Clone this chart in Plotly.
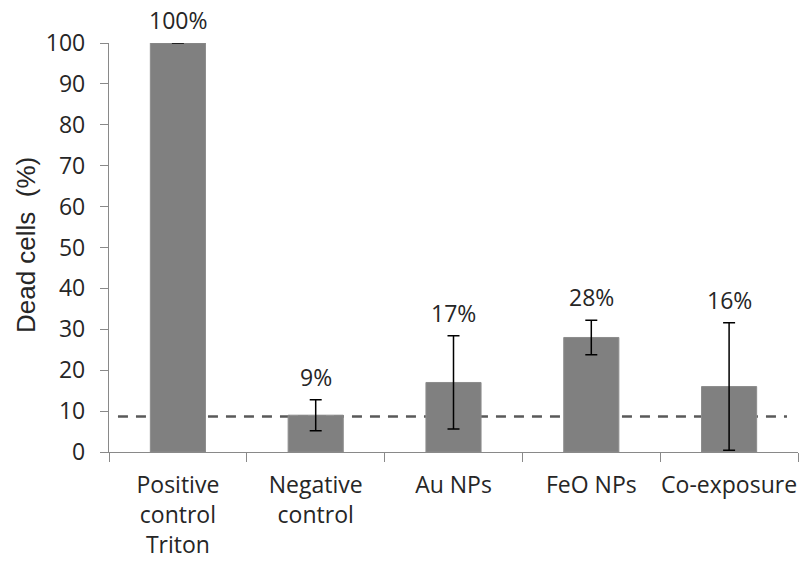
import plotly.graph_objects as go

# Cell viability after nanoparticle exposure
categories = ["Positive<br>control<br>Triton", "Negative<br>control", "Au NPs", "FeO NPs", "Co-exposure"]
dead_pct = [100, 9, 17, 28, 16]
err_pct = [0, 3.8, 11.4, 4.2, 15.6]
baseline_pct = 8.7          # negative-control reference level
y_ticks = list(range(0, 101, 10))

AXIS_GRAY = "#898989"
BAR_GRAY = "#808080"
TEXT = "#262626"
FONT = "Open Sans"

fig = go.Figure()
fig.add_trace(go.Bar(
    x=categories, y=dead_pct,
    marker=dict(color=BAR_GRAY, line=dict(color="#8c8c8c", width=1)),
    width=0.4,
    error_y=dict(type="data", array=err_pct, color="#000000", thickness=1.5, width=6),
    showlegend=False,
))

# Reference level as a dashed line behind the bars
fig.add_shape(type="line", xref="x", yref="y",
              x0=-0.435, x1=4.42, y0=baseline_pct, y1=baseline_pct,
              line=dict(color="#595959", width=2.5, dash="10px,8px"),
              layer="below")

# Percentage labels above each bar / error bar
for c, v, e in zip(categories, dead_pct, err_pct):
    fig.add_annotation(x=c, y=v + e, text=f"{v}%", showarrow=False,
                       yanchor="middle", yshift=23,
                       font=dict(family=FONT, size=23, color=TEXT))

# Rotated y-axis title
fig.add_annotation(xref="paper", yref="paper", x=0, y=0.506,
                   xshift=-83, text="Dead cells\u00a0\u00a0(%)", textangle=-90,
                   showarrow=False, xanchor="center", yanchor="middle",
                   font=dict(family="Liberation Sans", size=26, color=TEXT))

fig.update_layout(
    width=799, height=563,
    margin=dict(l=109, r=1, t=43, b=111, autoexpand=False),
    plot_bgcolor="white", paper_bgcolor="white",
    font=dict(family=FONT, color=TEXT),
)
fig.update_xaxes(
    type="category", range=[-0.5, 4.5], automargin=False,
    showline=True, linecolor=AXIS_GRAY, linewidth=1.3,
    ticks="outside", tickson="boundaries", ticklen=9, tickcolor=AXIS_GRAY, tickwidth=1.3,
    tickangle=0, ticklabelstandoff=12,
    tickfont=dict(family=FONT, size=23, color=TEXT),
    showgrid=False, zeroline=False,
)
fig.update_yaxes(
    range=[0, 100], tickvals=y_ticks, automargin=False,
    showline=True, linecolor=AXIS_GRAY, linewidth=1.3,
    ticks="outside", ticklen=8, tickcolor=AXIS_GRAY, tickwidth=1.3,
    tickfont=dict(family=FONT, size=23, color=TEXT),
    ticklabelstandoff=10,
    showgrid=False, zeroline=False,
)

fig.write_html("out.html")
